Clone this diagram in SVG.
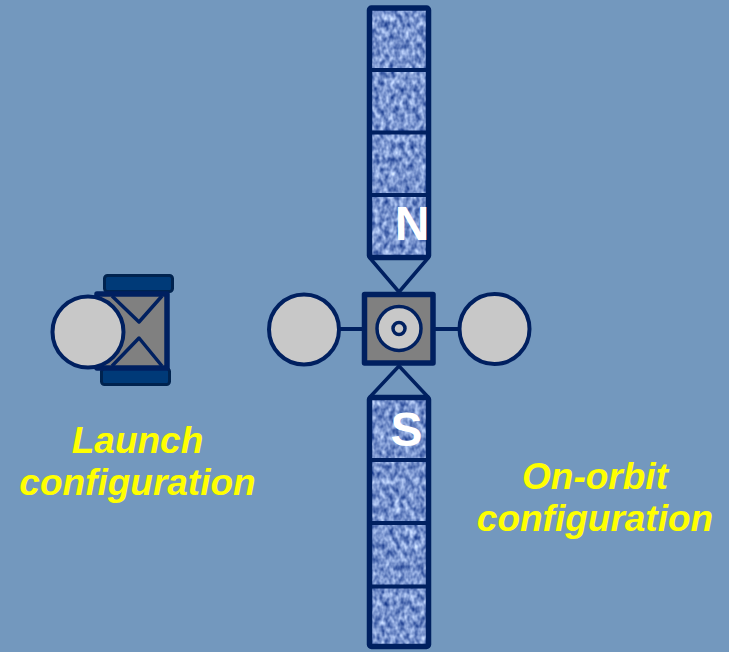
<svg xmlns="http://www.w3.org/2000/svg" width="729" height="652" viewBox="0 0 729 652">
  <defs>
    <!-- mottled blue texture for the solar cells -->
    <filter id="cells" x="0" y="0" width="1" height="1" color-interpolation-filters="sRGB">
      <feTurbulence type="fractalNoise" baseFrequency="0.2 0.14" numOctaves="2" seed="7" result="n"/>
      <feColorMatrix in="n" type="matrix" values="1.0 0 0 0 -0.03  0.925 0 0 0 0.113  0.675 0 0 0 0.467  0 0 0 0 1" result="c"/>
      <feComposite in="c" in2="SourceGraphic" operator="in"/>
    </filter>
    <style>
      .bg { fill: #7398be; }
      .cells { fill: #000; filter: url(#cells); }
      .frame { fill: none; stroke: #002060; stroke-width: 5.5; stroke-linejoin: round; }
      .div { stroke: #002060; stroke-width: 4; }
      .hinge { fill: none; stroke: #002060; stroke-width: 3.5; stroke-linejoin: round; }
      .strut { stroke: #002060; stroke-width: 4; }
      .body { fill: #808080; stroke: #002060; stroke-width: 5.5; stroke-linejoin: round; }
      .ball { fill: #c8c8c8; stroke: #002060; stroke-width: 4; }
      .ring { fill: #c8c8c8; stroke: #002060; stroke-width: 3.5; }
      .bar { fill: #003a78; stroke: #00234f; stroke-width: 3; }
      .label { font-family: "Liberation Sans", Arial, sans-serif; font-weight: bold; font-style: italic; font-size: 37px; fill: #ffff00; text-anchor: middle; }
      .dir { font-family: "Liberation Sans", Arial, sans-serif; font-weight: bold; font-size: 48px; fill: #ffffff; text-anchor: middle; }
    </style>
  </defs>

  <rect class="bg" x="0" y="0" width="729" height="652"/>

  <!-- stowed spacecraft -->
  <g id="launch">
    <rect class="bar" x="104.5" y="275.5" width="68" height="16" rx="3"/>
    <rect class="bar" x="101.5" y="368.5" width="68" height="16" rx="3"/>
    <rect class="body" x="97" y="294" width="70" height="74"/>
    <polyline class="hinge" points="112,296 139,322 162,296"/>
    <polyline class="hinge" points="112,366 139,338 162,366"/>
    <circle class="ball" cx="88" cy="332" r="35.5"/>
  </g>

  <!-- struts and panel hinges -->
  <g id="connectors">
    <line class="strut" x1="339" y1="329" x2="364" y2="329"/>
    <line class="strut" x1="434" y1="329" x2="459" y2="329"/>
    <polyline class="hinge" points="369.5,257.5 399,292 428.5,257.5"/>
    <polyline class="hinge" points="369.5,397.5 399,366 428.5,397.5"/>
  </g>

  <!-- north solar array -->
  <g id="panel-north">
    <rect class="cells" x="369.5" y="8" width="59" height="249.5"/>
    <line class="div" x1="369.5" y1="70" x2="428.5" y2="70"/>
    <line class="div" x1="369.5" y1="132.5" x2="428.5" y2="132.5"/>
    <line class="div" x1="369.5" y1="195" x2="428.5" y2="195"/>
    <rect class="frame" x="369.5" y="8" width="59" height="249.5" rx="2"/>
    <text class="dir" x="412" y="240">N</text>
  </g>

  <!-- south solar array -->
  <g id="panel-south">
    <rect class="cells" x="369.5" y="397.5" width="59" height="249"/>
    <line class="div" x1="369.5" y1="460" x2="428.5" y2="460"/>
    <line class="div" x1="369.5" y1="523" x2="428.5" y2="523"/>
    <line class="div" x1="369.5" y1="586.5" x2="428.5" y2="586.5"/>
    <rect class="frame" x="369.5" y="397.5" width="59" height="249" rx="2"/>
    <text class="dir" x="406.5" y="446">S</text>
  </g>

  <!-- deployed spacecraft body -->
  <g id="bus">
    <rect class="body" x="364.5" y="294.5" width="68.5" height="68.5"/>
    <circle class="ring" cx="399" cy="328.5" r="22"/>
    <circle class="ring" cx="399" cy="328.5" r="6"/>
  </g>

  <g id="antenna-west">
    <circle class="ball" cx="304" cy="329.5" r="35"/>
  </g>
  <g id="antenna-east">
    <circle class="ball" cx="494.5" cy="329" r="35"/>
  </g>

  <g id="caption-launch">
    <text class="label" x="137.5" y="453">Launch</text>
    <text class="label" x="137.5" y="495">configuration</text>
  </g>
  <g id="caption-orbit">
    <text class="label" x="595" y="489">On-orbit</text>
    <text class="label" x="595" y="531">configuration</text>
  </g>
</svg>
